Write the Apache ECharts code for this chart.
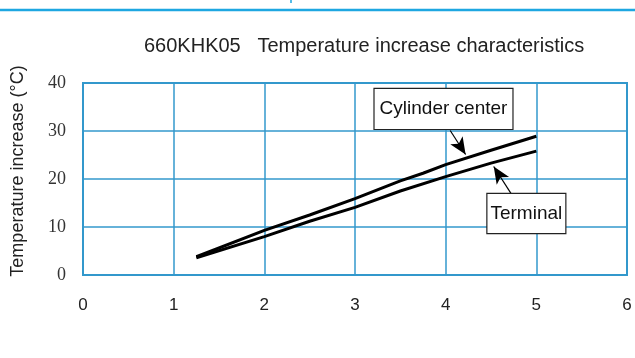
<!DOCTYPE html>
<html>
<head>
<meta charset="utf-8">
<script src="https://cdn.jsdelivr.net/npm/echarts@6/dist/echarts.min.js"></script>
<style>html,body{margin:0;padding:0;background:#fff}#c{width:635px;height:358px}</style>
</head>
<body>
<div id="c"></div>
<script>
const titleText = '660KHK05   Temperature increase characteristics';
const yAxisName = 'Temperature increase (°C)';
const xTicks = [0, 1, 2, 3, 4, 5, 6];
const yTicks = [0, 10, 20, 30, 40];
const seriesNames = ['Cylinder center', 'Terminal'];
const cylinderX = [1.25, 2, 2.5, 3, 3.5, 3.75, 4, 4.5, 5];
const cylinderY = [3.8, 9.3, 12.5, 15.9, 19.6, 21.2, 23.0, 26.0, 28.9];
const terminalX = [1.25, 2, 2.5, 3, 3.5, 4, 4.5, 5];
const terminalY = [3.6, 8.0, 11.2, 14.1, 17.5, 20.5, 23.3, 25.8];

const gridBlue = '#3399cc';
const chart = echarts.init(document.getElementById('c'));

function pairs(xs, ys) { return xs.map((x, i) => [x, ys[i]]); }

function boxLabel(pad) {
  return {
    show: true, color: '#111', fontFamily: 'Liberation Sans, Arial, sans-serif', fontSize: 19,
    backgroundColor: '#fff', borderColor: '#222', borderWidth: 1.2,
    padding: pad, position: 'inside', formatter: '{b}'
  };
}

chart.setOption({
  animation: false,
  title: {
    text: titleText, left: 139, top: 31,
    textStyle: { fontFamily: 'Liberation Sans, Arial, sans-serif', fontWeight: 'normal', fontSize: 20, color: '#222' }
  },
  grid: { left: 83, right: 8, top: 83, bottom: 83, show: true, borderColor: gridBlue, borderWidth: 2, containLabel: false },
  xAxis: {
    type: 'value', min: 0, max: 6, interval: 1,
    axisLine: { show: false }, axisTick: { show: false },
    splitLine: { show: true, lineStyle: { color: gridBlue, width: 1.5 } },
    axisLabel: { margin: 22, fontFamily: 'Liberation Sans, Arial, sans-serif', fontSize: 17, color: '#222',
      formatter: v => xTicks.includes(v) ? String(v) : '' }
  },
  yAxis: {
    type: 'value', min: 0, max: 40, interval: 10,
    name: yAxisName, nameLocation: 'middle', nameGap: 56,
    nameTextStyle: { fontFamily: 'Liberation Sans, Arial, sans-serif', fontSize: 18, color: '#222', padding: [0, 0, 0, 16] },
    axisLine: { show: false }, axisTick: { show: false },
    splitLine: { show: true, lineStyle: { color: gridBlue, width: 1.5 } },
    axisLabel: { margin: 17, fontFamily: 'Liberation Serif, Times New Roman, serif', fontSize: 18, color: '#333',
      formatter: v => yTicks.includes(v) ? String(v) : '' }
  },
  series: [
    {
      name: seriesNames[0], type: 'line', data: pairs(cylinderX, cylinderY), showSymbol: false,
      lineStyle: { color: '#000', width: 3 }, z: 3,
      markLine: {
        silent: true, symbol: ['none', 'arrow'], symbolSize: [11, 17],
        lineStyle: { color: '#000', width: 1.2, type: 'solid' }, label: { show: false },
        data: [[{ coord: [4.05, 30.1] }, { coord: [4.22, 25.1] }]]
      },
      markPoint: {
        silent: true, symbol: 'rect', symbolSize: 0, label: boxLabel([11, 5, 10, 5]),
        data: [{ name: seriesNames[0], coord: [3.976, 34.6] }]
      }
    },
    {
      name: seriesNames[1], type: 'line', data: pairs(terminalX, terminalY), showSymbol: false,
      lineStyle: { color: '#000', width: 3 }, z: 3,
      markLine: {
        silent: true, symbol: ['none', 'arrow'], symbolSize: [11, 17],
        lineStyle: { color: '#000', width: 1.2, type: 'solid' }, label: { show: false },
        data: [[{ coord: [4.72, 17.0] }, { coord: [4.53, 22.6] }]]
      },
      markPoint: {
        silent: true, symbol: 'rect', symbolSize: 0, label: boxLabel([10, 3, 10, 3]),
        data: [{ name: seriesNames[1], coord: [4.89, 12.8] }]
      }
    }
  ],
  graphic: [
    { type: 'line', shape: { x1: 0, y1: 10, x2: 635, y2: 10 }, style: { stroke: '#1ea7e1', lineWidth: 2.5 } },
    { type: 'line', shape: { x1: 291, y1: 0, x2: 291, y2: 3 }, style: { stroke: '#1ea7e1', lineWidth: 1.5 } }
  ]
});
</script>
</body>
</html>
